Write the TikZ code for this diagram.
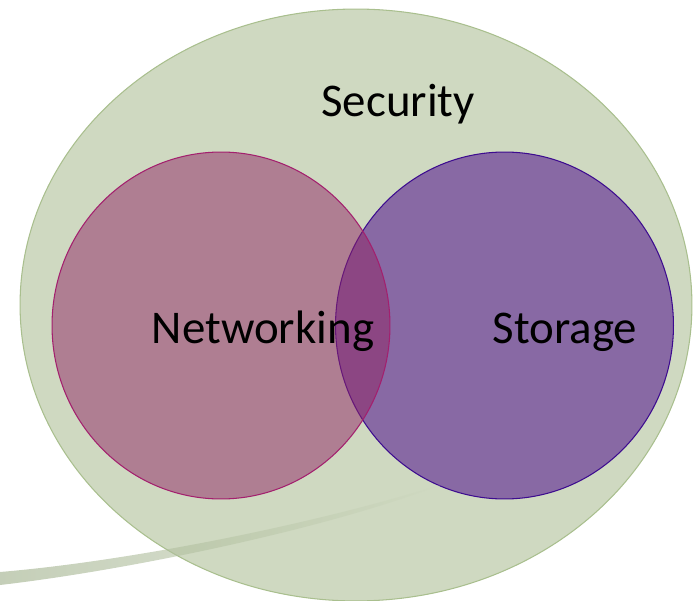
\documentclass[tikz,border=0pt]{standalone}
\usepackage{fontspec}
\setmainfont{Carlito}
\usepackage{xcolor}
\usepackage{tikz}
\usetikzlibrary{shapes.geometric, positioning, calc}

\definecolor{secfill}{HTML}{CFD9C1}
\definecolor{secline}{HTML}{A9BF8E}
\definecolor{netfill}{HTML}{912564}
\definecolor{netline}{HTML}{A3206E}
\definecolor{stofill}{HTML}{8869A4}
\definecolor{stoline}{HTML}{3D0C8F}
\definecolor{swoosh}{HTML}{9DAE88}

\begin{document}
\begin{tikzpicture}[x=0.02cm, y=-0.02cm,
    outer/.style={ellipse, draw=secline, fill=secfill, line width=0.6pt, minimum width=13.44cm, minimum height=11.84cm, inner sep=0pt},
    set/.style={ellipse, line width=0.6pt, minimum width=6.76cm, minimum height=6.94cm, inner sep=0pt},
    word/.style={anchor=base, inner sep=0pt, font=\fontsize{26.7}{32}\selectfont}]

    \useasboundingbox (0,0) rectangle (693,601);

    \node [outer] (security) at (356,305) {};
    \node [set, draw=stoline, fill=stofill] (storage) at (504.5,325.5) {};
    \node [set, draw=netline, fill=netfill, fill opacity=0.5] (networking) at (221,325.5) {};

    % swoosh at the bottom
    \shade [left color=swoosh, right color=secfill, opacity=0.6]
        (0,572) .. controls (120,562) and (300,528) .. (440,485)
        .. controls (330,528) and (130,570) .. (0,585) -- cycle;

    \node [word] (sectext) at (398,117) {Security};
    \node [word] (nettext) at (263,343) {Networking};
    \node [word] (stotext) at (565,343) {Storage};
\end{tikzpicture}
\end{document}
